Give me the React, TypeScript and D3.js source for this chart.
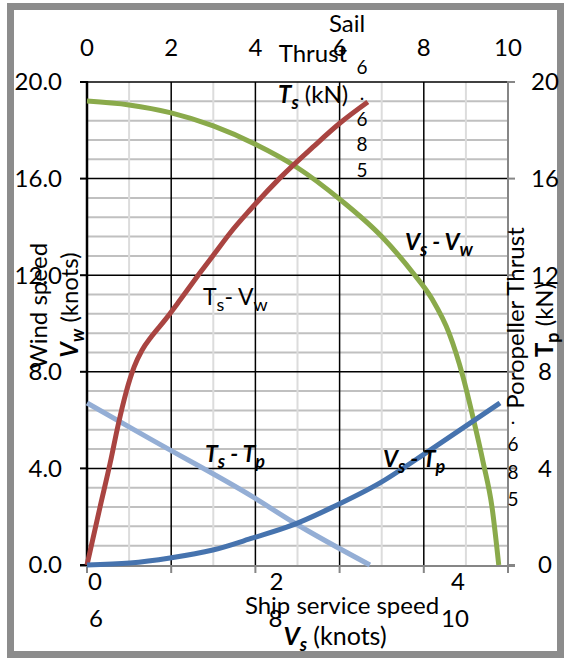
import React from "react";
import * as d3 from "d3";

const W = 564;
const H = 661;

// axis ticks
const topTicks = [0, 2, 4, 6, 8, 10];
const leftTicks = [0, 4, 8, 12, 16, 20];
const rightTicks = [0, 4, 8, 12, 16, 20];
const bottomRow1 = [0, 2, 4];
const bottomRow2 = [6, 8, 10];
const stray = ["6", ".", "6", "8", "5"]; // leftover data label pieces

// curves, read in plot units (x 0-10, y 0-20)
const tsVwX = [0, 0.31, 0.55, 0.74, 0.93, 1.12, 1.31, 1.54, 1.85, 2.21, 2.68, 3.04, 3.4, 3.87, 4.58, 5.37, 6.01, 6.67];
const tsVwY = [0, 2.4, 4.22, 5.8, 7.16, 8.2, 8.9, 9.48, 10.14, 10.97, 12.09, 12.92, 13.75, 14.7, 16.02, 17.31, 18.3, 19.17];

const vsVwX = [0, 1, 2, 3, 4, 5, 6, 7, 7.74, 8.2, 8.6, 8.93, 9.17, 9.41, 9.62, 9.78];
const vsVwY = [19.21, 19.05, 18.72, 18.18, 17.42, 16.45, 15.15, 13.6, 12.1, 11.0, 9.6, 7.8, 6.1, 4.25, 2.4, 0];

const tsTpX = [0, 1.5, 3.94, 4.89, 6.72];
const tsTpY = [6.71, 5.22, 2.82, 1.78, 0];

const vsTpX = [0, 1.02, 1.97, 2.99, 3.94, 4.89, 5.84, 6.96, 8.15, 9.81];
const vsTpY = [0, 0.08, 0.29, 0.62, 1.12, 1.66, 2.4, 3.4, 4.76, 6.71];

const FONT = "Lato, 'Open Sans', sans-serif";

const zip = (xs: number[], ys: number[]) => xs.map((x, i) => [x, ys[i]] as [number, number]);

export default function App() {
  const x = d3.scaleLinear().domain([0, 10]).range([87, 508]);
  const y = d3.scaleLinear().domain([0, 20]).range([565, 82]);
  const yRight = d3.scaleLinear().domain([0, 20]).range([565, 82]);
  const xBottom1 = d3.scaleLinear().domain([0, 4]).range([95, 458]);
  const xBottom2 = d3.scaleLinear().domain([6, 10]).range([96, 455]);
  const strayY = d3.scalePoint<number>().domain(d3.range(stray.length)).range([74, 177]);
  const strayRightY = d3.scalePoint<number>().domain(d3.range(1, stray.length)).range([424, 506]);

  const line = d3
    .line<[number, number]>()
    .x((d) => x(d[0]))
    .y((d) => y(d[1]))
    .curve(d3.curveMonotoneX);

  const minorX = d3.range(1, 10, 2);
  const majorX = [2, 4, 6, 8];
  const minorY = d3.range(0, 20.01, 0.8).filter((v) => Math.abs(v / 4 - Math.round(v / 4)) > 0.01);
  const majorY = [4, 8, 12, 16, 20];

  const series = [
    { d: zip(vsVwX, vsVwY), c: "#8AAA4B" },
    { d: zip(tsTpX, tsTpY), c: "#94AED5" },
    { d: zip(tsVwX, tsVwY), c: "#A94441" },
    { d: zip(vsTpX, vsTpY), c: "#4673AE" },
  ];

  const sub = 18;

  return (
    <svg width={W} height={H} style={{ position: "absolute", left: 0, top: 0, fontFamily: FONT }}>
      <rect x={0} y={0} width={W} height={H} fill="#fff" />
      <rect x={10.5} y={6.5} width={550} height={648} fill="#fff" stroke="#8c8c8c" strokeWidth={7} />

      {/* grid */}
      {minorY.map((v) => (
        <line key={"my" + v} x1={x(0)} x2={x(10)} y1={y(v)} y2={y(v)} stroke="#c0c0c0" strokeWidth={2} />
      ))}
      {minorX.map((v) => (
        <line key={"mx" + v} x1={x(v)} x2={x(v)} y1={y(0)} y2={y(20)} stroke="#dcdcdc" strokeWidth={2} />
      ))}
      {majorX.map((v) => (
        <line key={"Mx" + v} x1={x(v)} x2={x(v)} y1={y(0)} y2={y(20)} stroke="#000" strokeWidth={1.5} />
      ))}
      {majorY.map((v) => (
        <line key={"My" + v} x1={x(0)} x2={x(10)} y1={y(v)} y2={y(v)} stroke="#000" strokeWidth={1.5} />
      ))}

      {/* right + bottom axes */}
      <line x1={x(10)} x2={x(10)} y1={y(20) - 1} y2={y(0) + 1} stroke="#868686" strokeWidth={2} />
      {rightTicks.map((v) => (
        <line key={"rt" + v} x1={x(10)} x2={x(10) + 7} y1={yRight(v)} y2={yRight(v)} stroke="#868686" strokeWidth={2} />
      ))}
      <line x1={x(0) - 7} x2={x(10) + 7} y1={y(0) + 1} y2={y(0) + 1} stroke="#868686" strokeWidth={2} />
      {topTicks.map((v) => (
        <line key={"bt" + v} x1={x(v)} x2={x(v)} y1={y(0)} y2={y(0) + 8} stroke="#868686" strokeWidth={2} />
      ))}

      {/* left axis */}
      <line x1={x(0)} x2={x(0)} y1={y(20) - 1} y2={y(0) + 1} stroke="#000" strokeWidth={2.5} />
      {leftTicks.map((v) => (
        <line key={"lt" + v} x1={x(0) - 7} x2={x(0)} y1={y(v)} y2={y(v)} stroke="#000" strokeWidth={2} />
      ))}

      {/* series */}
      {series.map((s, i) => (
        <path key={i} d={line(s.d) || ""} fill="none" stroke={s.c} strokeWidth={5} strokeLinecap="butt" />
      ))}

      {/* tick labels */}
      <g fontSize={24} fill="#000">
        {topTicks.map((v) => (
          <text key={"tl" + v} x={x(v)} y={56} textAnchor="middle">{v}</text>
        ))}
        {leftTicks.map((v) => (
          <text key={"ll" + v} x={62} y={y(v)} dy="0.35em" textAnchor="end">{v.toFixed(1)}</text>
        ))}
        {rightTicks.map((v) => (
          <text key={"rl" + v} x={545} y={yRight(v)} dy="0.35em" textAnchor="middle">{v}</text>
        ))}
        {bottomRow1.map((v) => (
          <text key={"b1" + v} x={xBottom1(v)} y={590} textAnchor="middle">{v}</text>
        ))}
        {bottomRow2.map((v) => (
          <text key={"b2" + v} x={xBottom2(v)} y={627} textAnchor="middle">{v}</text>
        ))}
      </g>

      {/* axis titles */}
      <g fontSize={24} fill="#000">
        <text x={347} y={32} textAnchor="middle">Sail</text>
        <text x={313} y={62} textAnchor="middle">Thrust</text>
        <text x={278} y={103}>
          <tspan fontWeight="bold" fontStyle="italic">T</tspan>
          <tspan fontWeight="bold" fontStyle="italic" fontSize={sub} dy={6}>s</tspan>
          <tspan dy={-6}>{"  (kN)"}</tspan>
        </text>
        <text x={342} y={614} textAnchor="middle">Ship service speed</text>
        <text x={335} y={645} textAnchor="middle" fontSize={25}>
          <tspan fontWeight="bold" fontStyle="italic">V</tspan>
          <tspan fontWeight="bold" fontStyle="italic" fontSize={sub} dy={6}>s</tspan>
          <tspan dy={-6}> (knots)</tspan>
        </text>
        <text transform="translate(47,306) rotate(-90)" textAnchor="middle">Wind speed</text>
        <text transform="translate(78,305) rotate(-90)" textAnchor="middle">
          <tspan fontWeight="bold" fontStyle="italic">V</tspan>
          <tspan fontWeight="bold" fontStyle="italic" fontSize={sub} dy={6}>w</tspan>
          <tspan dy={-6}>{"  (knots)"}</tspan>
        </text>
        <text transform="translate(524,318) rotate(-90)" textAnchor="middle">Poropeller Thrust</text>
        <text transform="translate(553,320) rotate(-90)" textAnchor="middle">
          <tspan fontWeight="bold">T</tspan>
          <tspan fontWeight="bold" fontSize={sub} dy={6}>p</tspan>
          <tspan dy={-6}>{"  (kN)"}</tspan>
        </text>
      </g>

      {/* stray label pieces */}
      <g fontSize={19} fill="#000" textAnchor="middle">
        {stray.map((s, i) => (
          <text key={"s" + i} x={362} y={strayY(i)}>{s}</text>
        ))}
        {stray.slice(1).map((s, i) => (
          <text key={"sr" + i} x={513} y={strayRightY(i + 1)}>{s}</text>
        ))}
      </g>

      {/* series labels */}
      <g fontSize={23} fill="#000">
        <text x={203} y={305}>
          <tspan>T</tspan>
          <tspan fontSize={sub} dy={6}>s</tspan>
          <tspan dy={-6}>- V</tspan>
          <tspan fontSize={sub} dy={6}>w</tspan>
        </text>
        <text x={405} y={250} fontWeight="bold" fontStyle="italic">
          <tspan>V</tspan>
          <tspan fontSize={sub} dy={6}>s</tspan>
          <tspan dy={-6}> - V</tspan>
          <tspan fontSize={sub} dy={6}>w</tspan>
        </text>
        <text x={205} y={462} fontWeight="bold" fontStyle="italic">
          <tspan>T</tspan>
          <tspan fontSize={sub} dy={6}>s</tspan>
          <tspan dy={-6}> - T</tspan>
          <tspan fontSize={sub} dy={6}>p</tspan>
        </text>
        <text x={383} y={467} fontWeight="bold" fontStyle="italic">
          <tspan>V</tspan>
          <tspan fontSize={sub} dy={6}>s</tspan>
          <tspan dy={-6}> - T</tspan>
          <tspan fontSize={sub} dy={6}>p</tspan>
        </text>
      </g>
    </svg>
  );
}
